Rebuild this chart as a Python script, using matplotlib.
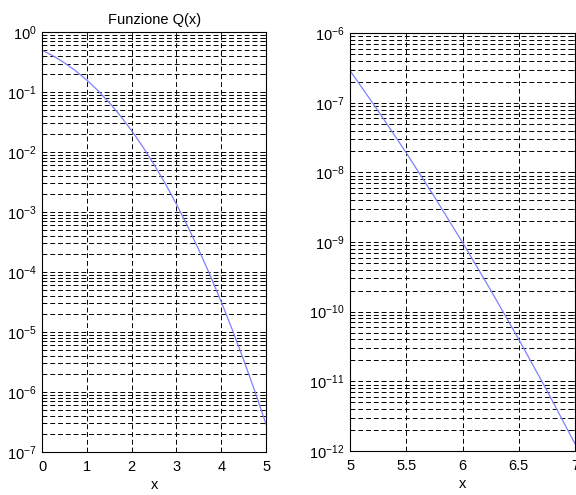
import numpy as np
import matplotlib
matplotlib.use("Agg")
import matplotlib.pyplot as plt
from matplotlib.ticker import LogLocator, FixedLocator, NullFormatter

plt.rcParams['font.family'] = ['Liberation Sans', 'DejaVu Sans']
plt.rcParams['mathtext.default'] = 'regular'

# valori
x_left = [0, 0.25, 0.5, 0.75, 1, 1.25, 1.5, 1.75, 2, 2.25, 2.5,
          2.75, 3, 3.25, 3.5, 3.75, 4, 4.25, 4.5, 4.75, 5]
q_left = [0.5, 0.401, 0.3085, 0.2266, 0.1587, 0.1056, 0.0668, 0.0401,
          0.02275, 0.01222, 0.00621, 0.00298, 0.00135, 5.77e-4, 2.33e-4,
          8.84e-5, 3.17e-5, 1.07e-5, 3.40e-6, 1.02e-6, 2.87e-7]
x_right = [5, 5.25, 5.5, 5.75, 6, 6.25, 6.5, 6.75, 7]
q_right = [2.87e-7, 7.60e-8, 1.90e-8, 4.46e-9, 9.87e-10, 2.05e-10,
           4.02e-11, 7.43e-12, 1.28e-12]
xticks_left = [0, 1, 2, 3, 4, 5]
xticks_right = [5, 5.5, 6, 6.5, 7]
xticklabels_right = ['5', '5.5', '6', '6.5', '7']

fig = plt.figure(figsize=(5.76, 4.95), dpi=100)
ax1 = fig.add_axes([0.073, 0.087, 0.389, 0.848])
ax2 = fig.add_axes([0.608, 0.089, 0.390, 0.844])

line_col = '#8080ff'
dash = (0, (5, 3))


def style(ax, xlim, ylim, xticks, xlabels=None):
    ax.set_yscale('log')
    ax.set_xlim(*xlim)
    ax.set_ylim(*ylim)
    ax.xaxis.set_major_locator(FixedLocator(xticks))
    if xlabels is not None:
        ax.set_xticklabels(xlabels)
    ax.yaxis.set_major_locator(LogLocator(base=10, numticks=20))
    ax.yaxis.set_minor_locator(LogLocator(base=10, subs=np.arange(2, 10), numticks=20))
    ax.yaxis.set_minor_formatter(NullFormatter())
    ax.grid(True, which='both', axis='y', color='black', linestyle=dash, linewidth=0.7)
    ax.grid(True, which='major', axis='x', color='black', linestyle=dash, linewidth=0.7)
    ax.tick_params(which='both', direction='in', top=True, right=True,
                   labelsize=10.5, colors='black')
    ax.tick_params(which='major', length=3, width=0.6)
    ax.tick_params(which='minor', length=2, width=0.5)
    ax.tick_params(axis='x', pad=6)
    ax.tick_params(axis='y', pad=4)
    for s in ax.spines.values():
        s.set_linewidth(0.8)
    ax.set_xlabel('x', fontsize=10.5, labelpad=3)


ax1.plot(x_left, q_left, color=line_col, linewidth=0.9)
style(ax1, (0, 5), (1e-7, 1e0), xticks_left)
ax1.set_title('Funzione Q(x)', fontsize=10.5, pad=6)

ax2.plot(x_right, q_right, color=line_col, linewidth=0.9)
style(ax2, (5, 7), (1e-12, 1e-6), xticks_right, xticklabels_right)

fig.savefig('out.png', dpi=100)
